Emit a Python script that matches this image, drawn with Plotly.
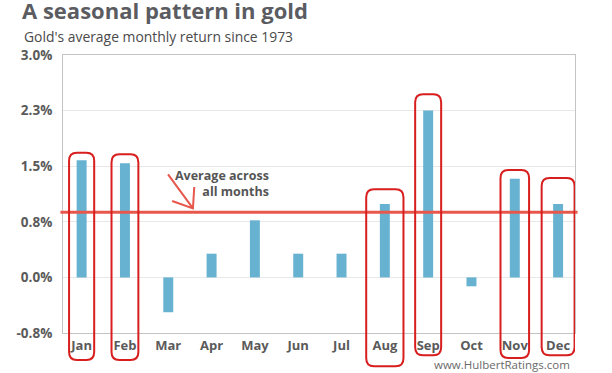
import plotly.graph_objects as go

# ---- data ----
months = ["Jan", "Feb", "Mar", "Apr", "May", "Jun", "Jul", "Aug", "Sep", "Oct", "Nov", "Dec"]
avg_return = [1.58, 1.54, -0.47, 0.32, 0.77, 0.32, 0.32, 0.99, 2.25, -0.12, 1.33, 0.99]
overall_avg = 0.88
tick_vals = [-0.75, 0.0, 0.75, 1.5, 2.25, 3.0]
tick_text = ["-0.8%", "0.0%", "0.8%", "1.5%", "2.3%", "3.0%"]
highlighted = ["Jan", "Feb", "Aug", "Sep", "Nov", "Dec"]

title = "A seasonal pattern in gold"
subtitle = "Gold's average monthly return since 1973"
source = "www.HulbertRatings.com"
annot_text = "Average across<br>all months"

# ---- style ----
BAR = "#67b2d1"
RED_LINE = "#e8574b"
BOX = "#d81e1e"
GRID = "#e8e8e8"
AXIS = "#c4c4c4"
TXT = "#5a5a5a"
YMIN, YMAX = -0.75, 3.0

# box geometry (annotation decoration): half-width in category units, top in data units, bottom in paper
box_half = {"Jan": 0.29, "Feb": 0.31, "Aug": 0.43, "Sep": 0.30, "Nov": 0.33, "Dec": 0.38}
box_top = {"Jan": 1.68, "Feb": 1.66, "Aug": 1.19, "Sep": 2.47, "Nov": 1.45, "Dec": 1.34}
box_bottom = {"Jan": -0.097, "Feb": -0.097, "Aug": -0.12, "Sep": -0.08, "Nov": -0.09, "Dec": -0.08}

fig = go.Figure()
fig.add_trace(go.Bar(x=months, y=avg_return, marker=dict(color=BAR, line=dict(width=0)),
                     hoverinfo="skip"))

def to_paper(v):
    return (v - YMIN) / (YMAX - YMIN)

shapes = []
# average line
shapes.append(dict(type="line", xref="paper", yref="y", x0=-0.005, x1=1.005,
                   y0=overall_avg, y1=overall_avg, line=dict(color=RED_LINE, width=3)))
# arrow
shapes.append(dict(type="path", xref="x", yref="y",
                   path="M 1.995,1.39 L 2.57,0.93 M 2.09,1.03 L 2.57,0.93 L 2.6,1.22",
                   line=dict(color=RED_LINE, width=2)))
# rounded boxes
rx, ry = 0.18, 0.029
for m in highlighted:
    i = months.index(m)
    x0, x1 = i - box_half[m], i + box_half[m]
    y0, y1 = box_bottom[m], to_paper(box_top[m])
    p = (f"M {x0+rx},{y0} L {x1-rx},{y0} Q {x1},{y0} {x1},{y0+ry} "
         f"L {x1},{y1-ry} Q {x1},{y1} {x1-rx},{y1} L {x0+rx},{y1} "
         f"Q {x0},{y1} {x0},{y1-ry} L {x0},{y0+ry} Q {x0},{y0} {x0+rx},{y0} Z")
    shapes.append(dict(type="path", xref="x", yref="paper", path=p,
                       line=dict(color=BOX, width=2), layer="above"))

annotations = [
    dict(text=subtitle, xref="paper", yref="paper", x=-0.08, y=1.068, xanchor="left",
         yanchor="middle", showarrow=False, font=dict(family="Open Sans", size=13.9, color="#4a4a4a")),
    dict(text=source, xref="paper", yref="paper", x=0.994, y=-0.115, xanchor="right",
         yanchor="middle", showarrow=False, font=dict(family="Open Sans", size=11.5, color="#6a6a6a")),
    dict(text=annot_text, xref="x", yref="y", x=4.37, y=1.27, xanchor="right", yanchor="middle",
         align="right", showarrow=False,
         font=dict(family="Open Sans", size=12.5, color="#555555", weight=700)),
]

fig.update_layout(
    width=612, height=373,
    margin=dict(l=63, r=37, t=55, b=40),
    paper_bgcolor="white", plot_bgcolor="white",
    showlegend=False, bargap=0.77,
    title=dict(text=title, xref="container", yref="container", x=0.036, y=0.99,
               xanchor="left", yanchor="top",
               font=dict(family="Open Sans", size=22, color="#5b5c61", weight=700)),
    shapes=shapes, annotations=annotations,
)
fig.update_xaxes(type="category", range=[-0.43, 11.39], showgrid=False, showline=True,
                 linecolor=AXIS, linewidth=1, mirror=True, ticks="",
                 tickfont=dict(family="Open Sans", size=13, color=TXT, weight=700))
fig.update_yaxes(range=[YMIN, YMAX], tickvals=tick_vals, ticktext=tick_text, showgrid=True,
                 gridcolor=GRID, gridwidth=1, zeroline=False, showline=True, linecolor=AXIS,
                 linewidth=1, mirror=True, ticks="", ticklabelstandoff=7,
                 tickfont=dict(family="Open Sans", size=13.5, color=TXT, weight=700))

fig.write_html("out.html", config={"displayModeBar": False},
               post_script="document.body.style.margin='0';")
